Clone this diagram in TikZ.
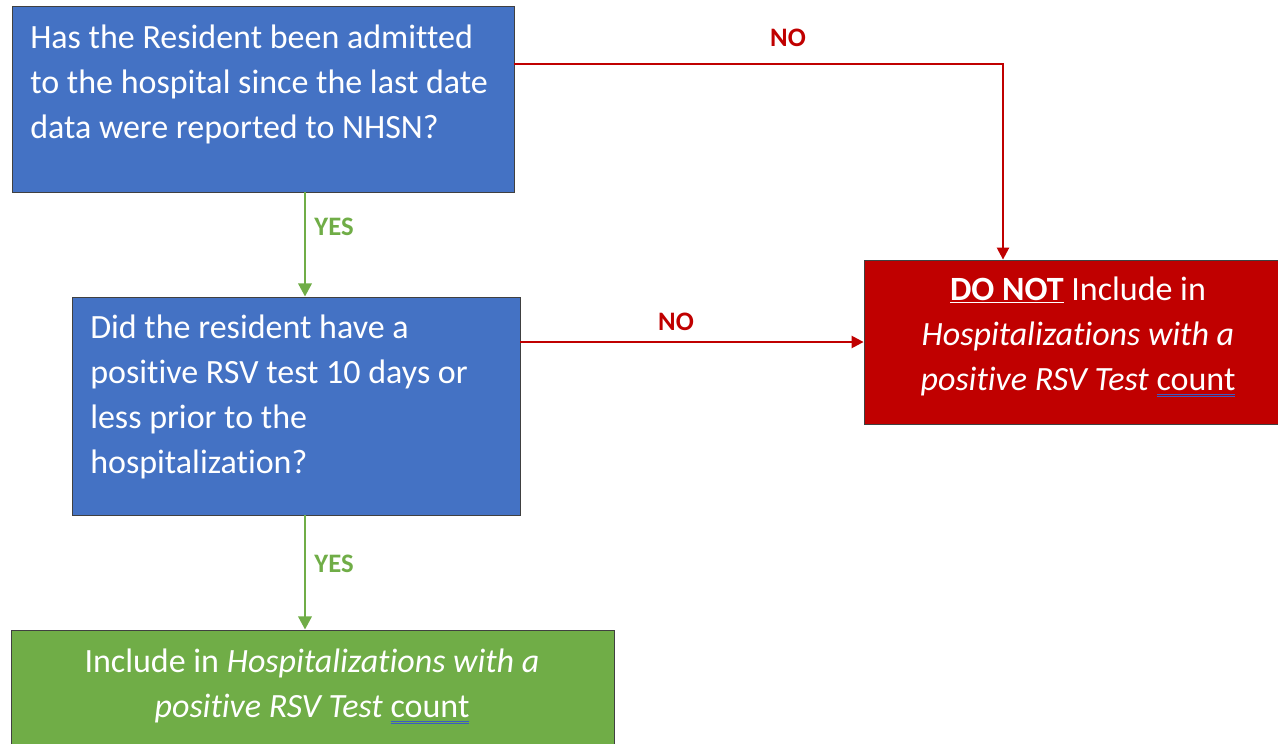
\documentclass[tikz,border=0pt]{standalone}
\usepackage{fontspec}
\setmainfont[Ligatures=NoCommon]{Carlito}
\usetikzlibrary{arrows.meta}
\definecolor{boxblue}{HTML}{4472C4}
\definecolor{boxred}{HTML}{C00000}
\definecolor{boxgreen}{HTML}{70AD47}
\definecolor{ulblue}{HTML}{3B5BC4}
\newcommand{\countul}[1]{\setbox0\hbox{#1}\rlap{\color{ulblue}\rule[-3.8pt]{\wd0}{0.6pt}}\rlap{\color{ulblue}\rule[-5.2pt]{\wd0}{0.6pt}}\box0}
\begin{document}
\begin{tikzpicture}[x=0.75pt, y=-0.75pt,
    box/.style={draw=black!75, line width=0.6pt, inner sep=0pt},
    boxtext/.style={text=white, inner sep=0pt, font=\fontsize{25.5pt}{33.75pt}\selectfont},
    yesline/.style={boxgreen, line width=2.2pt, -{Triangle[length=10pt, width=10pt]}},
    noline/.style={boxred, line width=1.8pt, -{Triangle[length=9pt, width=9pt]}},
    yeslabel/.style={text=boxgreen, font=\fontsize{20pt}{22pt}\selectfont\bfseries},
    nolabel/.style={text=boxred, font=\fontsize{20pt}{22pt}\selectfont\bfseries}]
\useasboundingbox (0,0) rectangle (1278,743);

\node[box, fill=boxblue, minimum width=502*0.75pt, minimum height=186*0.75pt] (q1) at (263,99) {};
\node[box, fill=boxblue, minimum width=448*0.75pt, minimum height=218*0.75pt] (q2) at (296,406) {};
\node[box, fill=boxred, minimum width=428*0.75pt, minimum height=164*0.75pt] (skip) at (1078,342) {};
\node[box, fill=boxgreen, minimum width=603*0.75pt, minimum height=130*0.75pt] (keep) at (312.5,695) {};

% base anchor sits on the last line
\node[boxtext, anchor=base west, align=left] (q1text) at (30,138)
    {Has the Resident been admitted\\to the hospital since the last date\\data were reported to NHSN?};
\node[boxtext, anchor=base west, align=left] (q2text) at (90,473)
    {Did the resident have a\\positive RSV test 10 days or\\less prior to the\\hospitalization?};
\node[boxtext, anchor=base, align=center] (skiptext) at (1078,390)
    {\textbf{\underline{DO NOT}} Include in\\\textit{Hospitalizations with a}\\\textit{positive RSV Test} \countul{count}};
\node[boxtext, anchor=base, align=center] (keeptext) at (312,717)
    {Include in \textit{Hospitalizations with a}\\\textit{positive RSV Test} \countul{count}};

\coordinate (spine) at (305,0);
\coordinate (drop) at (1003,64);

\draw[yesline] (q1.south -| spine) -- (q2.north -| spine);
\draw[yesline] (q2.south -| spine) -- (keep.north -| spine);
\draw[noline] (q1.east |- drop) -- (drop) -- (drop |- skip.north);
\draw[noline] (q2.east |- skip.west) -- (skip.west);

\node[yeslabel] (yes1) at (334,227) {YES};
\node[yeslabel] (yes2) at (334,564) {YES};
\node[nolabel] (no1) at (788,38) {NO};
\node[nolabel] (no2) at (676,322) {NO};
\end{tikzpicture}
\end{document}
